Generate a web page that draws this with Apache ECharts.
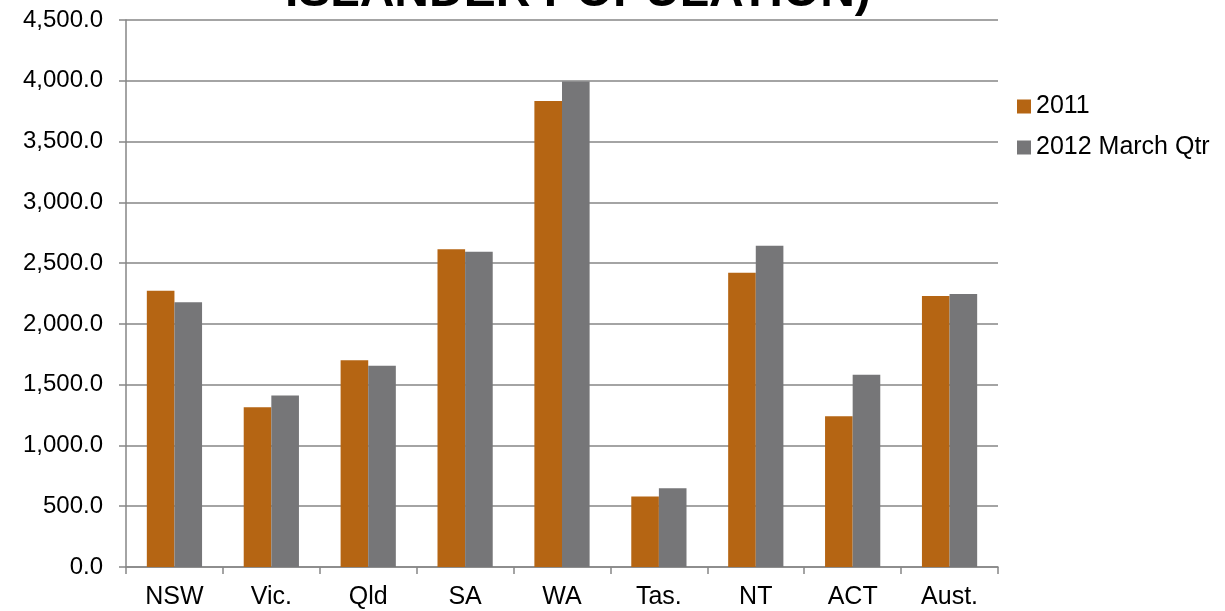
<!DOCTYPE html>
<html>
<head>
<meta charset="utf-8">
<script src="https://cdn.jsdelivr.net/npm/echarts@6/dist/echarts.min.js"></script>
<style>
  html, body { margin: 0; padding: 0; background: #fff; }
  #chart { width: 1225px; height: 611px; }
</style>
</head>
<body>
<div id="chart"></div>
<script>
// data
const categories = ["NSW", "Vic.", "Qld", "SA", "WA", "Tas.", "NT", "ACT", "Aust."];
const series2011 = [2273, 1314, 1700, 2614, 3834, 581, 2421, 1240, 2230];
const series2012 = [2178, 1410, 1656, 2594, 3995, 647, 2643, 1582, 2246];
const seriesNames = ["2011", "2012 March Qtr"];

const chart = echarts.init(document.getElementById("chart"));

const option = {
  animation: false,
  textStyle: { fontFamily: "Liberation Sans, Arial, sans-serif" },
  title: {
    text: "ISLANDER POPULATION)",
    left: 280,
    top: -36,
    textStyle: {
      fontSize: 48,
      fontWeight: "bold",
      color: "#000",
      fontFamily: "Liberation Sans, Arial, sans-serif",
    },
  },
  legend: {
    orient: "vertical",
    left: 1012,
    top: 89,
    itemWidth: 14,
    itemHeight: 14,
    itemGap: 16,
    icon: "rect",
    textStyle: { fontSize: 25, color: "#000" },
    data: seriesNames,
  },
  grid: {
    left: 126,
    right: 227,
    top: 20,
    bottom: 44,
  },
  xAxis: {
    type: "category",
    data: categories,
    axisLine: { show: true, lineStyle: { color: "#868686", width: 1.5 } },
    axisTick: { show: true, length: 7, lineStyle: { color: "#868686", width: 1.5 } },
    axisLabel: { fontSize: 25, color: "#000", margin: 18 },
  },
  yAxis: {
    type: "value",
    min: 0,
    max: 4500,
    interval: 500,
    axisLine: { show: true, lineStyle: { color: "#868686", width: 1.5 } },
    axisTick: { show: true, length: 7, lineStyle: { color: "#868686", width: 1.5 } },
    axisLabel: {
      fontSize: 24,
      color: "#000",
      margin: 23,
      formatter: function (v) {
        return v.toLocaleString("en-US", { minimumFractionDigits: 1, maximumFractionDigits: 1 });
      },
    },
    splitLine: { show: true, lineStyle: { color: "#868686", width: 1.5 } },
  },
  series: [
    {
      name: seriesNames[0],
      type: "bar",
      data: series2011,
      barGap: "0%",
      barCategoryGap: "43%",
      itemStyle: { color: "#B56513" },
    },
    {
      name: seriesNames[1],
      type: "bar",
      data: series2012,
      barGap: "0%",
      barCategoryGap: "43%",
      itemStyle: { color: "#767678" },
    },
  ],
};

chart.setOption(option);
</script>
</body>
</html>
